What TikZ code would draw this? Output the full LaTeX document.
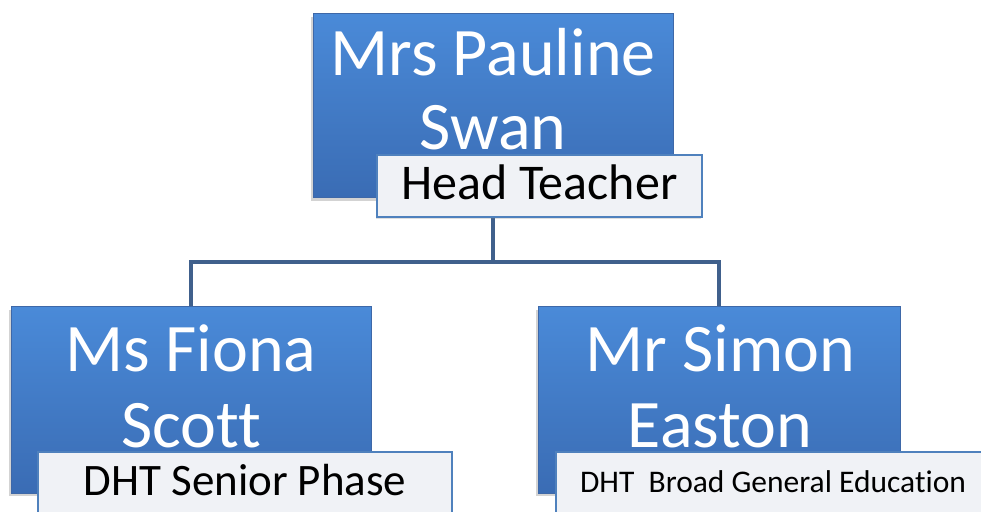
\documentclass[tikz,border=0pt]{standalone}
\usepackage{fontspec}
\setmainfont{Carlito}[Ligatures={TeX,NoCommon}]
\usetikzlibrary{shadows}
\definecolor{boxtop}{RGB}{74,138,216}
\definecolor{boxbot}{RGB}{58,108,180}
\definecolor{boxedge}{RGB}{62,104,168}
\definecolor{lblborder}{RGB}{79,129,189}
\definecolor{lblfill}{RGB}{240,242,246}
\definecolor{conncol}{RGB}{64,96,140}
\begin{document}
\begin{tikzpicture}[x=1pt,y=1pt,
  namebox/.style={rectangle, inner sep=0pt, top color=boxtop, bottom color=boxbot,
    draw=boxedge, line width=1pt,
    drop shadow={shadow xshift=-2pt, shadow yshift=-3pt, opacity=0.35}},
  titlebox/.style={rectangle, inner sep=0pt, fill=lblfill, draw=lblborder,
    line width=1.5pt, text=black,
    drop shadow={shadow xshift=-1.5pt, shadow yshift=-2pt, opacity=0.25}},
  nametext/.style={text=white, inner sep=0pt, anchor=base,
    font=\fontsize{68}{72}\selectfont},
  conn/.style={draw=conncol, line width=4pt}]
\useasboundingbox (0,0) rectangle (981,511);
\begin{scope}
\clip (0,0) rectangle (981,511);
% person boxes
\node[namebox, minimum width=360pt, minimum height=184pt] (top) at (493,405) {};
\node[namebox, minimum width=360pt, minimum height=186pt] (left) at (191,111) {};
\node[namebox, minimum width=362pt, minimum height=186pt] (right) at (719,111) {};
% connectors
\coordinate (bus) at (493,249);
\draw[conn] (top.south) -- (bus) -| (left.north);
\draw[conn] (bus) -| (right.north);
% names
\node[nametext] (topa) at (493,435) {Mrs Pauline};
\node[nametext] (topb) at (493,361) {Swan};
\node[nametext] (lefta) at (191,139) {Ms Fiona};
\node[nametext] (leftb) at (191,64) {Scott};
\node[nametext] (righta) at (720,139) {Mr Simon};
\node[nametext] (rightb) at (720,64) {Easton};
% role labels
\node[titlebox, minimum width=325pt, minimum height=62pt,
  text height=35pt, text depth=7pt,
  font=\fontsize{50}{56}\selectfont] (toprole) at (539.5,325) {Head Teacher};
\node[titlebox, minimum width=414pt, minimum height=62pt,
  text height=32pt, text depth=8pt,
  font=\fontsize{45}{50}\selectfont] (leftrole) at (245,28) {DHT Senior Phase};
\node[titlebox, minimum width=434pt, minimum height=62pt,
  text height=22pt, text depth=4pt,
  font=\fontsize{31.5}{36}\selectfont] (rightrole) at (773,28) {DHT~~Broad General Education};
\end{scope}
\end{tikzpicture}
\end{document}
